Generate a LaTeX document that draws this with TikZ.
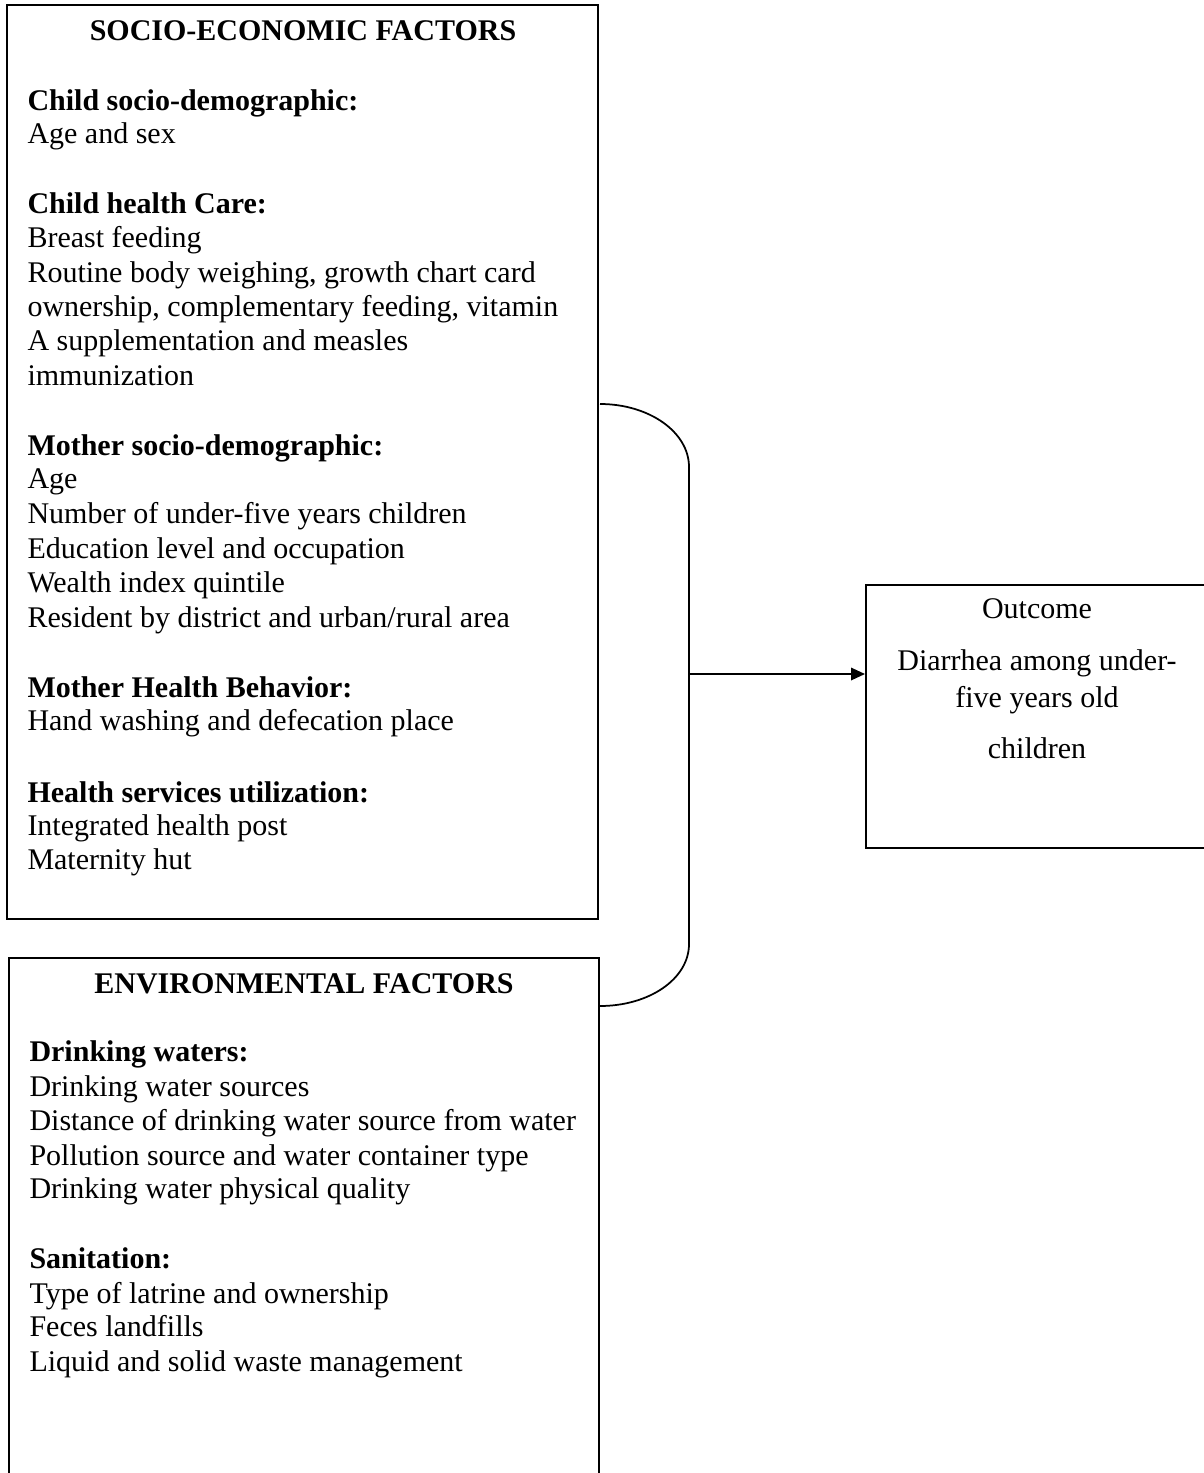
\documentclass[tikz,border=0pt]{standalone}
\usepackage{fontspec}
\setmainfont{Liberation Serif}
\usetikzlibrary{fit,arrows.meta}
\begin{document}
\begin{tikzpicture}[x=0.4pt,y=-0.4pt,
  box/.style={draw, line width=0.8pt, inner sep=0pt},
  txt/.style={anchor=base west, inner sep=0pt, font=\fontsize{12pt}{13.8pt}\selectfont},
  ctxt/.style={anchor=base, inner sep=0pt, font=\fontsize{12pt}{13.8pt}\selectfont},
  ttl/.style={anchor=base, inner sep=0pt, font=\fontsize{12pt}{13.8pt}\selectfont\bfseries},
  link/.style={line width=0.7pt},
]
\useasboundingbox (0,0) rectangle (1204,1473);
\clip (0,0) rectangle (1204,1473);
% boxes
\node[box, fit={(7,5) (598,919)}] (socio) {};
\node[box, fit={(9,958) (599,1530)}] (env) {};
\node[box, fit={(866,585) (1240,848)}] (out) {};
% titles
\node[ttl] (sociot) at (303,40) {SOCIO-ECONOMIC FACTORS};
\node[ttl] (envt) at (304,993) {ENVIRONMENTAL FACTORS};
% socio-economic lines
\foreach \yy/\tt [count=\i] in {
  110/{\textbf{Child socio-demographic:}},
  143/{Age and sex},
  213/{\textbf{Child health Care:}},
  247/{Breast feeding},
  282/{Routine body weighing, growth chart card},
  316/{ownership, complementary feeding, vitamin},
  350/{A supplementation and measles},
  385/{immunization},
  455/{\textbf{Mother socio-demographic:}},
  488/{Age},
  523/{Number of under-five years children},
  558/{Education level and occupation},
  592/{Wealth index quintile},
  627/{Resident by district and urban/rural area},
  697/{\textbf{Mother Health Behavior:}},
  730/{Hand washing and defecation place},
  802/{\textbf{Health services utilization:}},
  835/{Integrated health post},
  869/{Maternity hut}}
  \node[txt] (s\i) at (27,\yy) {\tt};
% environmental lines
\foreach \yy/\tt [count=\i] in {
  1061/{\textbf{Drinking waters:}},
  1096/{Drinking water sources},
  1130/{Distance of drinking water source from water},
  1165/{Pollution source and water container type},
  1198/{Drinking water physical quality},
  1268/{\textbf{Sanitation:}},
  1303/{Type of latrine and ownership},
  1336/{Feces landfills},
  1371/{Liquid and solid waste management}}
  \node[txt] (e\i) at (29,\yy) {\tt};
% outcome lines
\foreach \yy/\tt [count=\i] in {
  618/{Outcome},
  670/{Diarrhea among under-},
  707/{five years old},
  758/{children}}
  \node[ctxt] (o\i) at (1037,\yy) {\tt};
% brace and arrow
\coordinate (bt) at (600,404);
\coordinate (bb) at (600,1006);
\coordinate (bm) at (689,674);
\draw[link] (bt) .. controls (649,404) and (689,432) .. (689,467)
  -- (689,944) .. controls (689,979) and (649,1006) .. (bb);
\draw[link, -{Triangle[length=5.6pt,width=5pt]}] (bm) -- (bm -| out.west);
\end{tikzpicture}
\end{document}
